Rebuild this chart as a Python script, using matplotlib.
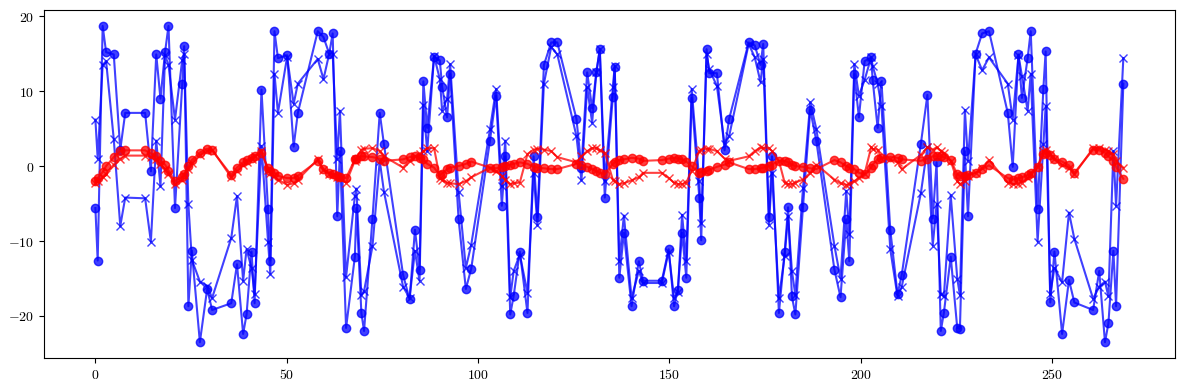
import matplotlib
matplotlib.use('Agg')
import matplotlib.pyplot as plt
from matplotlib.ticker import FuncFormatter

plt.rcParams['mathtext.fontset'] = 'cm'

# sample positions (shared by all four series)
x = [0.0, 0.6, 1.9, 2.8, 4.8, 6.5, 7.8, 13.0, 14.5, 15.9, 17.0, 18.2, 19.1, 20.8, 22.7, 23.2, 24.3, 25.2, 27.3, 29.2, 30.5,
     35.5, 37.0, 38.6, 39.5, 40.8, 41.6, 43.4, 45.1, 45.7, 46.8, 47.7, 50.1, 51.8, 52.9, 58.1, 59.6, 61.1, 62.0, 63.2, 63.9, 65.5,
     67.8, 68.2, 69.5, 70.2, 72.4, 74.3, 75.4, 80.4, 82.1, 83.5, 84.7, 85.7, 86.7, 88.5, 90.0, 90.6, 91.9, 92.7, 94.9, 96.8, 98.2,
     103.1, 104.7, 106.2, 107.1, 108.4, 109.3, 110.9, 112.9, 114.5, 115.5, 117.2, 119.1, 120.7, 125.7, 127.0, 128.5, 129.8, 130.9, 131.8, 133.1,
     135.2, 135.7, 136.9, 138.1, 140.1, 142.0, 143.1, 148.0, 149.8, 151.2, 152.2, 153.3, 154.4, 155.8, 157.8, 158.3, 159.7, 160.4, 162.4, 164.4, 165.6,
     170.7, 172.3, 173.8, 174.5, 176.0, 176.8, 178.6, 180.1, 181.0, 182.0, 182.9, 184.9, 186.8, 188.4, 193.1, 194.7, 196.2, 197.0, 198.3, 199.5, 201.0,
     202.7, 203.1, 204.4, 205.4, 207.7, 209.6, 210.7, 215.7, 217.4, 218.8, 219.8, 220.9, 221.7, 223.5, 225.2, 225.9, 227.2, 228.0, 230.0, 231.7, 233.5,
     238.4, 239.7, 241.2, 242.1, 243.6, 244.4, 246.2, 247.7, 248.3, 249.5, 250.6, 252.6, 254.4, 255.8, 260.7, 262.3, 263.8, 264.7, 266.0, 266.7, 268.6]

blue_o = [-5.6, -12.6, 18.7, 15.2, 14.9, 2.2, 7.1, 7.1, -0.7, 14.9, 9.0, 15.2, 18.7, -5.6, 11.0, 16.0, -18.7, -11.3, -23.5, -16.4, -19.2,
          -18.3, -13.1, -22.4, -19.8, -11.4, -18.3, 10.2, -5.7, -12.6, 18.0, 14.4, 14.8, 2.6, 7.1, 18.0, 17.2, 15.0, 17.7, -6.7, 2.0, -21.6,
          -12.1, -5.6, -19.6, -22.0, -7.0, 7.1, 2.9, -14.5, -17.8, -8.5, -13.8, 11.3, 5.1, 14.6, 14.1, 10.6, 6.5, 12.3, -7.1, -16.4, -13.7,
          3.4, 9.4, -5.3, 1.3, -19.8, -17.3, -11.4, -19.6, 1.3, -6.8, 13.5, 16.5, 16.5, 6.3, -0.2, 12.5, 7.7, 12.5, 15.6, -4.2,
          9.2, 13.2, -14.9, -8.9, -18.7, -12.7, -15.3, -15.3, -11.1, -18.7, -16.5, -8.9, -14.9, 9.1, -4.2, -9.9, 15.6, 12.4, 12.4, 2.1, 6.3,
          16.5, 16.1, 13.5, 16.3, -6.8, 1.3, -19.6, -11.5, -5.5, -17.4, -19.8, -5.4, 7.5, 3.3, -13.8, -17.5, -7.1, -12.7, 12.3, 6.5, 14.0,
          14.5, 11.5, 5.1, 11.3, -8.5, -17.1, -14.5, 3.0, 9.5, -7.0, 0.5, -22.0, -19.6, -12.1, -21.6, -21.7, 2.0, -6.7, 15.0, 17.7, 18.0,
          7.1, -0.1, 14.9, 9.1, 14.4, 18.0, -5.7, 10.3, 15.3, -18.2, -11.4, -22.4, -15.2, -18.2, -19.2, -14.0, -23.5, -21.0, -11.3, -18.7, 11.0]

blue_x = [6.2, 1.0, 13.5, 14.0, 3.6, -8.0, -4.2, -4.3, -10.1, 3.4, -2.7, 14.8, 13.5, 6.2, 14.2, 15.0, -5.1, -12.5, -15.4, -16.0, -17.6,
          -9.6, -4.0, -15.3, -11.1, -13.6, -17.1, 2.7, -10.1, -14.4, 12.3, 7.1, 14.6, 8.3, 11.0, 14.3, 11.6, 15.0, 15.0, 0.9, 7.4, -14.8,
          -4.0, -3.0, -17.2, -16.7, -10.7, 0.7, -3.4, -16.1, -17.6, -11.3, -15.3, 8.2, 2.0, 14.7, 11.6, 7.4, 9.0, 13.6, -3.4, -13.6, -10.5,
          4.9, 10.3, -2.7, 3.4, -17.5, -14.0, -11.8, -16.9, -0.9, -7.9, 11.0, 15.9, 14.9, 4.0, -1.9, 10.5, 5.8, 12.5, 15.6, -2.0,
          10.5, 13.4, -12.6, -6.6, -17.6, -14.0, -15.6, -15.6, -11.4, -17.6, -16.8, -6.5, -12.6, 10.3, -2.0, -7.6, 14.9, 12.9, 10.7, 2.9, 4.0,
          16.3, 14.5, 11.2, 14.3, -7.8, -0.9, -17.6, -12.0, -6.7, -14.0, -17.2, -2.9, 8.5, 4.9, -10.6, -15.0, -3.3, -9.1, 13.6, 9.4, 11.5,
          14.5, 13.4, 11.0, 8.0, -11.1, -17.4, -16.1, -3.6, 2.5, -10.6, -5.1, -17.1, -17.4, -3.9, -15.0, -17.2, 7.5, 0.7, 14.9, 12.8, 14.5,
          11.0, 6.2, 14.8, 12.0, 7.4, 12.3, -10.1, 2.9, 8.0, -17.1, -13.6, -15.5, -6.2, -9.7, -17.7, -16.1, -15.4, -17.4, 2.0, -5.3, 14.4]

red_o = [-2.0, -1.6, -0.8, 0.0, 1.2, 2.0, 2.1, 2.1, 1.7, 1.3, 0.7, 0.2, -0.6, -2.0, -1.4, -1.0, 0.0, 0.8, 1.8, 2.3, 2.1,
         -1.2, -0.2, 0.5, 0.8, 1.1, 1.4, 1.7, -0.2, -0.6, -0.9, -1.3, -1.6, -1.6, -1.3, 0.7, -0.4, -0.9, -1.1, -1.3, -1.4, -1.6,
         0.9, 1.0, 1.3, 1.3, 1.2, 1.0, 0.7, 0.9, 1.2, 1.3, 1.1, 0.9, 0.3, -0.2, -1.2, -1.0, -0.4, -0.2, 0.0, 0.3, 0.6,
         -0.2, -0.3, -0.1, 0.0, 0.2, 0.3, 0.5, 0.3, -0.1, -0.2, -0.3, -0.4, -0.4, 0.3, 0.1, -0.1, -0.4, -0.7, -0.9, -1.1,
         0.3, 0.5, 0.8, 0.9, 1.1, 1.0, 0.7, 0.8, 1.0, 1.1, 1.0, 0.9, 0.6, 0.0, -0.9, -0.8, -0.7, -0.5, -0.1, 0.2, 0.5,
         -0.4, -0.4, -0.3, -0.2, 0.0, 0.2, 0.7, 0.7, 0.5, 0.2, 0.0, -0.1, -0.3, -0.4, 0.8, 0.5, 0.0, -0.2, -0.4, -0.9, -1.1,
         -0.2, 0.2, 0.9, 1.1, 1.2, 1.1, 0.9, 0.7, 1.0, 1.3, 1.3, 1.3, 1.2, 0.8, -1.1, -1.3, -1.3, -1.2, -0.9, -0.4, 0.1,
         -1.6, -1.8, -1.6, -1.5, -1.2, -0.9, -0.1, 1.6, 1.7, 1.5, 1.0, 0.6, 0.1, -0.9, 2.2, 2.1, 1.8, 1.3, 0.7, -0.1, -1.7]

red_x = [-2.2, -2.0, -1.5, -1.0, 0.2, 1.0, 1.4, 1.4, 1.2, 0.9, 0.3, -0.4, -1.0, -2.4, -1.8, -1.2, -0.4, 0.4, 1.5, 2.0, 2.2,
         -1.5, -0.6, 0.2, 0.6, 1.0, 1.3, 2.0, -0.5, -0.9, -1.3, -1.8, -2.5, -2.3, -1.8, 0.9, -0.5, -1.0, -1.2, -1.4, -1.6, -2.2,
         0.7, 1.0, 2.2, 2.3, 2.4, 2.0, 1.3, -0.2, 0.7, 1.3, 1.6, 2.0, 2.4, 2.4, -1.6, -1.8, -2.2, -2.3, -2.4, -2.0, -1.5,
         -0.2, -0.7, -1.3, -1.8, -2.4, -2.3, -2.2, 1.6, 2.2, 2.3, 2.2, 2.0, 1.2, 0.5, 1.3, 2.0, 2.4, 2.4, 2.1, 1.8,
         -1.8, -2.0, -2.4, -2.3, -1.9, -1.5, -0.9, -0.9, -1.6, -2.2, -2.4, -2.4, -2.2, -0.6, 2.0, 2.2, 2.3, 2.3, 2.0, 1.0, 0.7,
         1.3, 2.0, 2.5, 2.4, 2.4, 2.0, 0.7, -2.2, -2.4, -2.4, -2.2, -1.8, -0.9, 0.2, -1.8, -2.3, -2.5, -2.4, -2.0, -1.6, -1.0,
         2.5, 2.3, 2.2, 1.1, 0.9, 0.5, -0.4, 1.5, 2.5, 2.2, 2.5, 2.0, 1.8, 0.7, -2.0, -2.4, -2.0, -1.3, -0.9, -0.2, 0.8,
         -2.2, -2.4, -2.4, -2.2, -1.6, -1.1, -0.1, 2.0, 2.2, 1.6, 0.9, 0.2, -0.2, -1.1, 2.4, 2.4, 2.2, 2.0, 1.6, 0.7, -0.2]

fig, ax = plt.subplots(figsize=(11.89, 3.9), dpi=100)

ax.plot(x, blue_o, 'o-', color='b', alpha=0.75)
ax.plot(x, blue_x, 'x-', color='b', alpha=0.75)
ax.plot(x, red_o, 'o-', color='r', alpha=0.75)
ax.plot(x, red_x, 'x-', color='r', alpha=0.75)

fmt = FuncFormatter(lambda v, pos: '$%g$' % v)
ax.xaxis.set_major_formatter(fmt)
ax.yaxis.set_major_formatter(fmt)

fig.subplots_adjust(left=0.037, right=0.988, top=0.974, bottom=0.082)
plt.savefig('out.png')
